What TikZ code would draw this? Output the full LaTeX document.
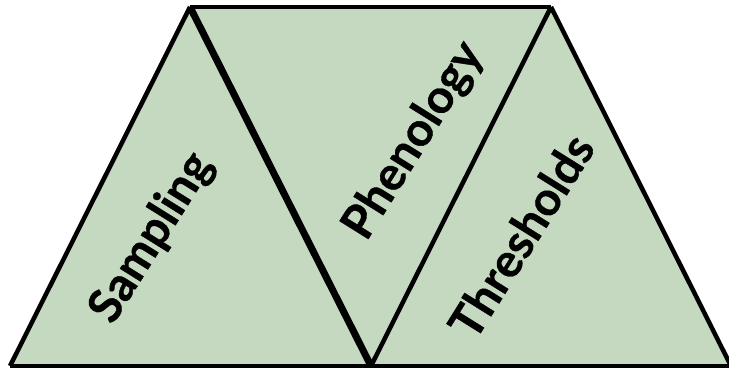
\documentclass[tikz,border=0pt]{standalone}
\usepackage{fontspec}
\setmainfont{Lato}[BoldFeatures={FakeBold=0.8}]
\usepackage{tikz}
\definecolor{sage}{HTML}{C4D9BF}

\begin{document}
\begin{tikzpicture}[x=1pt, y=-1pt,
	% Styles for the edges and the rotated labels
	edge/.style={line width=4.5pt, line join=miter},
	label text/.style={font=\bfseries\fontsize{47}{47}\selectfont, rotate=58, inner sep=0pt}
	]
	\useasboundingbox (0,0) rectangle (729,371);
	
	% Corners of the three triangles
	\coordinate (BL) at (10,366);
	\coordinate (TL) at (190,7);
	\coordinate (TR) at (551,7);
	\coordinate (BM) at (371,366);
	\coordinate (BR) at (731,366);
	
	% --- Fill ---
	\fill[sage] (BL) -- (TL) -- (TR) -- (BR) -- cycle;
	
	% --- Labels ---
	\node[label text] (sampling) at (152,238) {Sampling};
	\node[label text] (phenology) at (414,141) {Phenology};
	\node[label text] (thresholds) at (521,236) {Thresholds};
	
	% --- Draw the edges ---
	\draw[edge] (BL) -- (TL);
	\draw[line width=3.5pt] (TL) -- (TR);
	\draw[edge] (TR) -- (BR);
	\draw[edge] (BL) -- (BR);
	\draw[line width=7pt] (TL) -- (BM);
	\draw[edge] (TR) -- (BM);
\end{tikzpicture}
\end{document}
